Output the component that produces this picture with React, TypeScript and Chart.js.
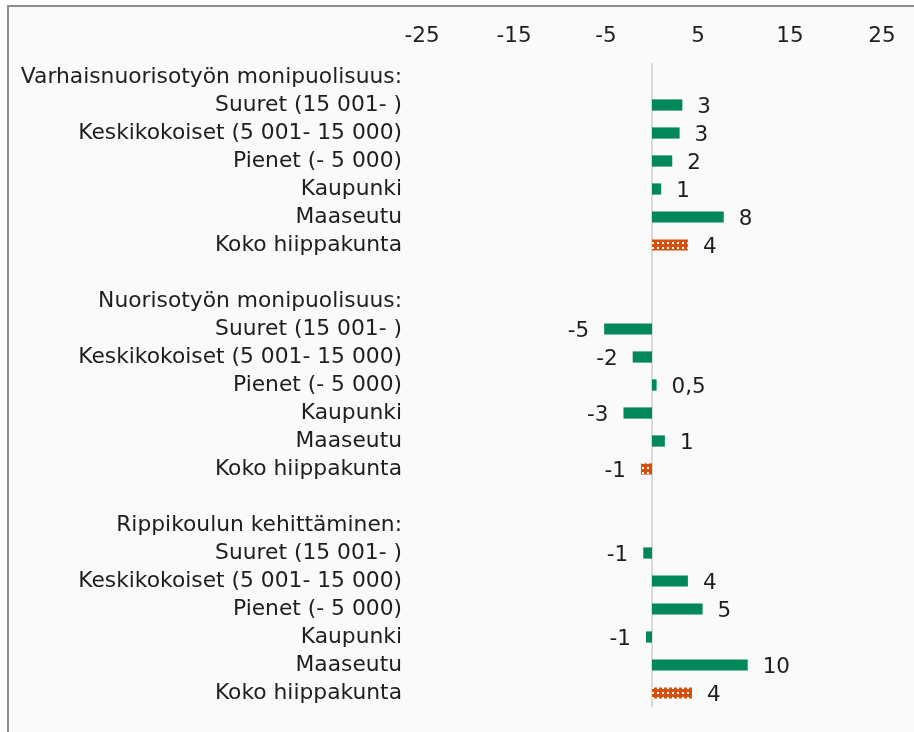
import { useEffect, useRef } from "react";
import { Chart, registerables } from "chart.js";

Chart.register(...registerables);

const categories: string[] = [
  "Varhaisnuorisotyön monipuolisuus:",
  "Suuret (15 001- )",
  "Keskikokoiset (5 001- 15 000)",
  "Pienet (- 5 000)",
  "Kaupunki",
  "Maaseutu",
  "Koko hiippakunta",
  "",
  "Nuorisotyön monipuolisuus:",
  "Suuret (15 001- )",
  "Keskikokoiset (5 001- 15 000)",
  "Pienet (- 5 000)",
  "Kaupunki",
  "Maaseutu",
  "Koko hiippakunta",
  "",
  "Rippikoulun kehittäminen:",
  "Suuret (15 001- )",
  "Keskikokoiset (5 001- 15 000)",
  "Pienet (- 5 000)",
  "Kaupunki",
  "Maaseutu",
  "Koko hiippakunta",
];

const values: (number | null)[] = [
  null, 3.3, 3.0, 2.2, 1.0, 7.8, 3.9,
  null,
  null, -5.2, -2.1, 0.5, -3.1, 1.4, -1.2,
  null,
  null, -0.95, 3.9, 5.5, -0.65, 10.4, 4.35,
];

const valueLabels: string[] = [
  "", "3", "3", "2", "1", "8", "4",
  "",
  "", "-5", "-2", "0,5", "-3", "1", "-1",
  "",
  "", "-1", "4", "5", "-1", "10", "4",
];

const xMin = -25;
const xMax = 25;
const xStep = 10;

const FONT = "'DejaVu Sans', Verdana, sans-serif";
const LABEL_SIZE = 21.8;
const TICK_SIZE = 21.5;
const TEXT = "#1e1e1e";
const GREEN = "#00875a";
const ORANGE = "#d4500f";

function makePattern(): CanvasPattern | string {
  const c = document.createElement("canvas");
  c.width = 5;
  c.height = 5;
  const g = c.getContext("2d");
  if (!g) return ORANGE;
  g.fillStyle = ORANGE;
  g.fillRect(0, 0, 5, 5);
  g.fillStyle = "#ffffff";
  g.fillRect(2, 2, 2, 2);
  const p = g.createPattern(c, "repeat");
  return p || ORANGE;
}

export default function App() {
  const ref = useRef<HTMLCanvasElement | null>(null);

  useEffect(() => {
    if (!ref.current) return;
    const pattern = makePattern();
    const colors = categories.map((c) => (c === "Koko hiippakunta" ? pattern : GREEN));

    const zeroLine = {
      id: "zeroLine",
      beforeDatasetsDraw(chart: any) {
        const { ctx, chartArea, scales } = chart;
        const x = Math.round(scales.x.getPixelForValue(0));
        ctx.save();
        ctx.strokeStyle = "#d9d9d9";
        ctx.lineWidth = 2;
        ctx.beginPath();
        ctx.moveTo(x, chartArea.top);
        ctx.lineTo(x, chartArea.bottom);
        ctx.stroke();
        ctx.restore();
      },
    };

    const dataLabels = {
      id: "dataLabels",
      afterDatasetsDraw(chart: any) {
        const { ctx } = chart;
        const meta = chart.getDatasetMeta(0);
        ctx.save();
        ctx.font = `${TICK_SIZE}px ${FONT}`;
        ctx.fillStyle = TEXT;
        ctx.textBaseline = "middle";
        meta.data.forEach((bar: any, i: number) => {
          const v = values[i];
          if (v === null || v === undefined) return;
          const lbl = valueLabels[i];
          if (v >= 0) {
            ctx.textAlign = "left";
            ctx.fillText(lbl, bar.x + 15, bar.y + 2);
          } else {
            ctx.textAlign = "right";
            ctx.fillText(lbl, bar.x - 15, bar.y + 2);
          }
        });
        ctx.restore();
      },
    };

    const chart = new Chart(ref.current, {
      type: "bar",
      data: {
        labels: categories,
        datasets: [
          {
            data: values as any,
            backgroundColor: colors as any,
            borderWidth: 0,
            barPercentage: 0.4,
            categoryPercentage: 1,
          },
        ],
      },
      plugins: [zeroLine, dataLabels],
      options: {
        indexAxis: "y",
        animation: false,
        responsive: false,
        devicePixelRatio: 1,
        layout: { padding: { left: 0, right: 32, top: 0, bottom: 25 } },
        plugins: {
          legend: { display: false },
          tooltip: { enabled: false },
          title: { display: false },
        },
        scales: {
          x: {
            position: "top",
            min: xMin,
            max: xMax,
            grid: { display: false, drawTicks: false },
            border: { display: false },
            ticks: {
              stepSize: xStep,
              padding: 14,
              color: TEXT,
              font: { family: FONT, size: TICK_SIZE },
            },
            afterFit(scale: any) {
              scale.height = 63;
            },
          },
          y: {
            grid: { display: false, drawTicks: false },
            border: { display: false },
            ticks: {
              padding: 20,
              autoSkip: false,
              color: TEXT,
              font: { family: FONT, size: LABEL_SIZE },
            },
            afterFit(scale: any) {
              scale.width = 422;
              scale.paddingTop = 0;
              scale.paddingBottom = 0;
            },
          },
        },
      },
    });
    return () => chart.destroy();
  }, []);

  return (
    <div
      style={{
        position: "fixed",
        left: 0,
        top: 0,
        width: 914,
        height: 732,
        overflow: "hidden",
        background: "#ffffff",
      }}
    >
      <div
        style={{
          position: "absolute",
          left: 7,
          top: 5,
          width: 940,
          height: 760,
          border: "2px solid #8c8c8c",
          background: "#fafafa",
        }}
      />
      <canvas
        ref={ref}
        width={914}
        height={732}
        style={{ position: "absolute", left: 0, top: 0 }}
      />
    </div>
  );
}
